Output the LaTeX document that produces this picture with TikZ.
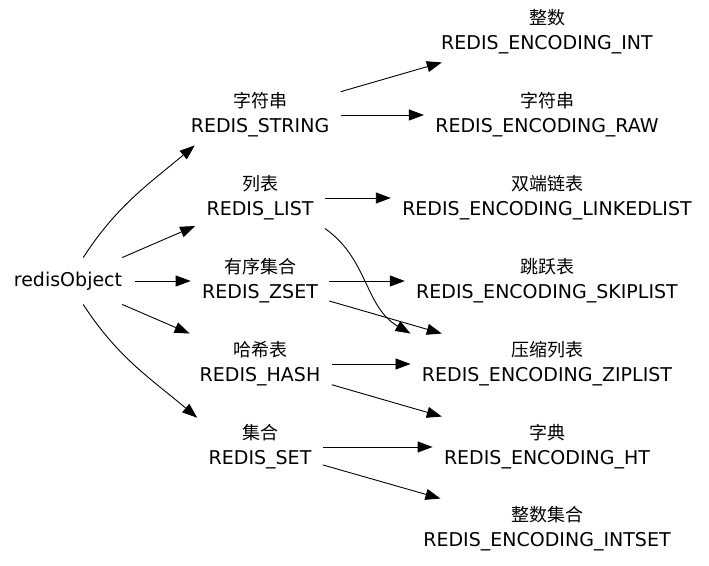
\documentclass[tikz,border=0pt]{standalone}
\usepackage{fontspec}
\setmainfont{DejaVu Sans}
\newfontfamily\cjk{Noto Sans CJK SC}
\newcommand{\zh}[1]{{\cjk\fontsize{18}{25}\selectfont #1}}
\usetikzlibrary{arrows.meta}

\begin{document}
\begin{tikzpicture}[x=1pt,y=1pt,line width=0.9pt,
  >={Triangle[length=15pt,width=11pt]},
  every node/.style={font=\fontsize{19}{25}\selectfont, align=center},
  typebox/.style={inner xsep=11pt, inner ysep=0pt, minimum height=60pt},
  encbox/.style={inner xsep=11pt, inner ysep=0pt, minimum height=60pt}]
  \def \tx {260}
  \def \ex {547}

  \useasboundingbox (0,0) rectangle (709,565);

  \node[inner xsep=12pt, inner ysep=0pt, minimum height=46pt] (obj) at (68,284) {redisObject};

  % object types
  \node[typebox] (str)  at (\tx,450) {\zh{字符串}\\REDIS\_STRING};
  \node[typebox] (list) at (\tx,367) {\zh{列表}\\REDIS\_LIST};
  \node[typebox] (zset) at (\tx,284) {\zh{有序集合}\\REDIS\_ZSET};
  \node[typebox] (hash) at (\tx,201) {\zh{哈希表}\\REDIS\_HASH};
  \node[typebox] (set)  at (\tx,118) {\zh{集合}\\REDIS\_SET};

  % encodings
  \node[encbox] (int)    at (\ex,533) {\zh{整数}\\REDIS\_ENCODING\_INT};
  \node[encbox] (raw)    at (\ex,450) {\zh{字符串}\\REDIS\_ENCODING\_RAW};
  \node[encbox] (linked) at (\ex,367) {\zh{双端链表}\\REDIS\_ENCODING\_LINKEDLIST};
  \node[encbox] (skip)   at (\ex,284) {\zh{跳跃表}\\REDIS\_ENCODING\_SKIPLIST};
  \node[encbox] (zip)    at (\ex,201) {\zh{压缩列表}\\REDIS\_ENCODING\_ZIPLIST};
  \node[encbox] (ht)     at (\ex,118) {\zh{字典}\\REDIS\_ENCODING\_HT};
  \node[encbox] (intset) at (\ex,36)  {\zh{整数集合}\\REDIS\_ENCODING\_INTSET};

  \foreach \a/\b in {obj/list,obj/zset,obj/hash,str/int,str/raw,list/linked,
                     zset/skip,zset/zip,hash/zip,hash/ht,set/ht,set/intset}{
    \draw[->] (\a) -- (\b);
  }
  \draw[->] (obj) to[out=57,in=-140] (str.-155);
  \draw[->] (obj) to[out=-57,in=140] (set.155);
  \draw[->] (list.south east) to[out=-35,in=150] (zip.north west);
\end{tikzpicture}
\end{document}
